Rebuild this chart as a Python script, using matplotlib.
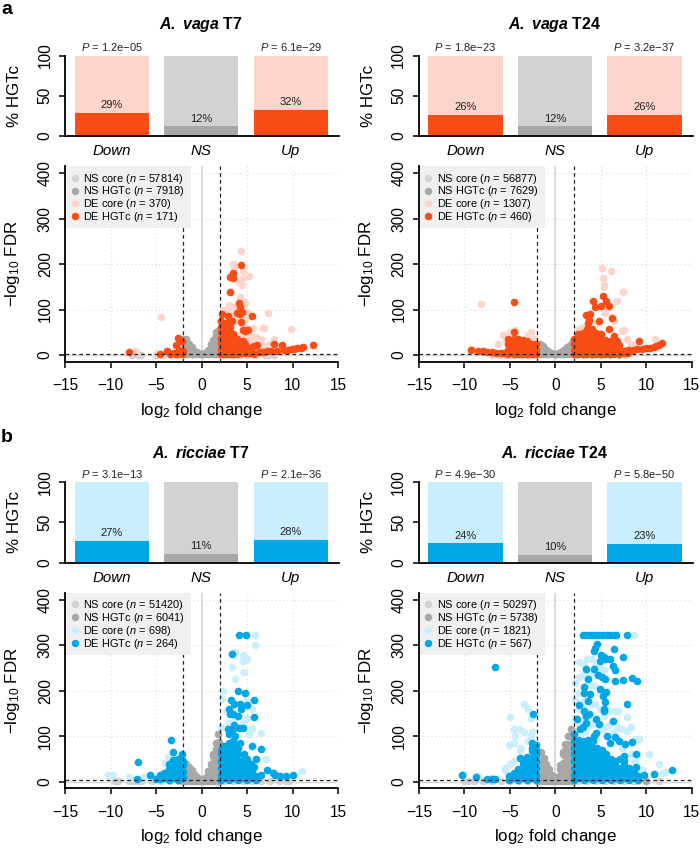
import matplotlib
matplotlib.use("Agg")
import matplotlib.pyplot as plt
from matplotlib.lines import Line2D
from matplotlib.patches import Rectangle

plt.rcParams.update({
    "font.family": ["Liberation Sans", "DejaVu Sans"],
    "mathtext.fontset": "custom",
    "mathtext.rm": "Liberation Sans",
    "mathtext.it": "Liberation Sans:italic",
    "mathtext.bf": "Liberation Sans:bold",
    "mathtext.bfit": "Liberation Sans:italic:bold",
})

W, H = 700, 850
ORANGE, ORANGE_PALE = "#fa4d16", "#fdd5cb"
BLUE, BLUE_PALE = "#00a7e7", "#c9eefd"
GREY, GREY_DARK = "#d2d2d2", "#a8a8a8"

categories = ["Down", "NS", "Up"]

# Bars: percentage of HGTc
pct_a_t7 = [29, 12, 32]
pct_a_t24 = [26, 12, 26]
pct_b_t7 = [27, 11, 28]
pct_b_t24 = [24, 10, 23]
p_a_t7 = ["1.2e−05", "6.1e−29"]
p_a_t24 = ["1.8e−23", "3.2e−37"]
p_b_t7 = ["3.1e−13", "2.1e−36"]
p_b_t24 = ["4.9e−30", "5.8e−50"]

# Legend counts: NS core, NS HGTc, DE core, DE HGTc
n_a_t7 = [57814, 7918, 370, 171]
n_a_t24 = [56877, 7629, 1307, 460]
n_b_t7 = [51420, 6041, 698, 264]
n_b_t24 = [50297, 5738, 1821, 567]

# Volcano points: columns are (x, [y, ...]).
ns_core_a_t7 = [(-7.7, [1]), (-7, [1]), (-6.7, [1]), (-5, [1]), (-4.2, [1]), (-3.4, [1]), (-2.6, [1]),
                (2.6, [1]), (3.4, [1]), (4.2, [1]), (5, [1]), (6, [1]), (7, [1]), (7.3, [0]), (8, [1])]
ns_core_a_t24 = [(-7, [0]), (-6.2, [1]), (-5.4, [1]), (-4.6, [1]), (-3.8, [1]), (-3, [1]), (-2.2, [1]),
                 (2.3, [1]), (3.2, [1]), (4, [1]), (5, [1]), (6, [1]), (7, [1]), (7.7, [0])]
ns_core_b_t7 = [(-9.5, [1]), (-9.2, [1]), (-8, [1]), (-7.5, [1]), (-7, [1]), (-6.7, [1]), (-5.5, [1]), (-4.5, [1]),
                (-3.5, [1]), (-2.5, [1]), (2.5, [1]), (3.5, [1]), (4.5, [1]), (5.5, [1]), (6.5, [1]), (7.5, [1]),
                (8.5, [1]), (9.3, [1]), (9.6, [1])]
ns_core_b_t24 = [(-10, [1]), (-9.6, [1]), (-9, [1]), (-8, [1]), (-7, [1]), (-6, [1]), (-5, [1]), (-4, [1]), (-3, [1]),
                 (2.5, [1]), (3.5, [1]), (4.5, [1]), (5.5, [1]), (6.5, [1]), (7.5, [1]), (8.5, [1]), (9, [1]),
                 (11.4, [1])]

ns_hgtc_a_t7 = [(-2, [2, 14, 26, 36]), (-1.7, [2, 14, 26, 35]), (-1.4, [2, 14, 24]), (-1.1, [2, 12, 18]),
                (-0.8, [2, 10]), (-0.5, [2, 6]), (-0.2, [2, 3]), (0.1, [2, 3]), (0.4, [2, 4]),
                (0.7, [2, 8, 12]), (1, [2, 14, 24]), (1.3, [2, 14, 28, 34]), (1.6, [2, 14, 28, 42, 50]),
                (1.9, [2, 14, 28, 42, 56])]
ns_hgtc_a_t24 = [(-2, [2, 12, 24]), (-1.7, [2, 12, 24]), (-1.4, [2, 12, 19]), (-1.1, [2, 13]), (-0.8, [2, 9]),
                 (-0.5, [2, 5]), (-0.2, [2, 3]), (0.1, [2, 3]), (0.4, [2, 5]), (0.7, [2, 8]), (1, [2, 12]),
                 (1.3, [2, 12, 17]), (1.6, [2, 12, 23]), (1.9, [2, 12, 27, 30])]
ns_hgtc_b_t7 = [(-2, [2, 14, 28, 40]), (-1.7, [2, 14, 28, 38]), (-1.4, [2, 14, 28, 32]), (-1.1, [2, 14, 25]),
                (-0.8, [2, 14, 18]), (-0.5, [2, 10]), (-0.2, [2, 4]), (0.1, [2, 5]), (0.4, [2, 9]),
                (0.7, [2, 14, 24]), (1, [2, 14, 28, 40]), (1.3, [2, 14, 28, 42, 56, 62]),
                (1.6, [2, 14, 28, 42, 56, 72, 86]), (1.75, [105]), (1.9, [2, 14, 28, 42, 56, 72, 88])]
ns_hgtc_b_t24 = [(-2, [2, 14, 28, 42, 56, 66]), (-1.6, [2, 14, 28, 42, 56, 66]), (-1.3, [2, 14, 28, 42, 52]),
                 (-1, [2, 14, 28, 40]), (-0.7, [2, 14, 28]), (-0.4, [2, 14]), (-0.1, [2, 6]), (0.2, [2, 10]),
                 (0.5, [2, 14, 28, 36]), (0.8, [2, 14, 28, 42, 60, 66]), (1.1, [2, 14, 28, 42, 56, 70, 84]),
                 (1.4, [2, 14, 28, 42, 56, 70, 84, 100]), (1.7, [2, 14, 28, 42, 56, 70, 84, 100, 117]),
                 (1.95, [2, 14, 28, 42, 56, 70, 84, 100, 112]), (10, [1])]

de_core_a_t7 = [(-7.2, [8]), (-5, [3]), (-4.9, [3]), (-4.5, [84]), (-3, [5]), (2, [75]), (2.3, [100]), (2.8, [90]),
                (3, [110, 95]), (3.4, [200]), (3.6, [190, 105, 90]), (4, [45, 78]), (4.1, [160, 100]), (4.2, [128]),
                (4.3, [230]), (4.4, [155, 70, 45]), (4.5, [170, 120, 85]), (4.6, [185, 65]), (4.8, [115, 80, 40]),
                (5, [40, 60, 35, 95]), (5.2, [175, 45]), (5.5, [40, 22]), (5.6, [60, 32]), (6, [40, 30]),
                (6.5, [35, 22]), (6.7, [60]), (6.9, [60]), (7, [20]), (7.3, [92]), (7.5, [25]), (8, [36, 18]),
                (8.5, [20]), (9.8, [57])]
de_hgtc_a_t7 = [(-8, [7]), (-4.6, [3]), (-3.8, [8]), (-3.5, [3]), (-3, [5]), (-2.8, [22, 2]), (-2.6, [38]),
                (-2.5, [12]), (-2.2, [32, 3]), (-2.1, [10]),
                (2.1, [3, 14, 26, 38, 50, 62, 75]), (2.2, [90]), (2.4, [3, 12, 24, 36, 48, 60, 70]),
                (2.8, [2, 12, 24, 36, 48, 60, 70]), (2.9, [85]), (3.1, [3, 14, 26, 38, 50, 62, 138, 172]),
                (3.3, [75]), (3.4, [170]), (3.5, [3, 12, 24, 36, 46, 180]), (3.9, [3, 14, 26, 36, 92]),
                (4.1, [115]), (4.2, [90, 105]), (4.3, [4, 16, 28, 72, 199]), (4.4, [95]), (4.5, [55]),
                (4.6, [30]), (4.8, [4, 14, 24, 52]), (5.1, [55]), (5.3, [4, 14]), (5.5, [85, 18]), (5.8, [3, 20]),
                (6.1, [22]), (6.3, [7]), (6.8, [7]), (7.2, [8]), (7.6, [9]), (8, [24]), (8.3, [10]), (8.8, [22]),
                (9.1, [11]), (9.5, [12]), (9.9, [13]), (10.2, [14]), (10.5, [15]), (10.9, [16]), (11.2, [18]),
                (12.2, [22])]

de_core_a_t24 = [(-9.3, [14]), (-8.2, [112]), (-6.3, [25]), (-5.8, [45]), (-5.4, [30]), (-5, [50]), (-4.4, [55]),
                 (-3, [45]), (-2.7, [50]), (-2.4, [35]), (2.4, [55]), (2.8, [60]), (3.2, [62]), (4.6, [70]),
                 (5.1, [192]), (5.2, [170]), (5.3, [155, 150]), (5.5, [92]), (5.6, [105]), (6.1, [184]),
                 (6.5, [75]), (6.8, [119]), (7.3, [52]), (7.4, [138]), (7.5, [55]), (7.9, [35]), (8.3, [25]),
                 (8.8, [20]), (11, [36]), (11.4, [24])]
de_hgtc_a_t24 = [(-9.3, [12]), (-8.5, [9]), (-8, [8]), (-7.5, [7]), (-7, [6]), (-6.5, [5]), (-6, [5]),
                 (-5.6, [4]), (-5.2, [2, 12, 24, 36]), (-4.9, [8, 20, 30]), (-4.6, [2, 12, 24, 36, 50]), (-4.5, [116]),
                 (-4.1, [2, 12, 24, 36]), (-3.6, [2, 12, 24, 34]), (-3.1, [2, 12, 24, 32]),
                 (-2.6, [2, 12, 24]), (-2.1, [2, 12, 24]),
                 (2.1, [2, 12, 24, 36]), (2.5, [2, 12, 24, 36, 46]), (3, [2, 12, 24, 36, 48]),
                 (3.4, [88]), (3.5, [2, 12, 24, 36, 48, 58]), (3.6, [70]), (3.7, [78]), (3.8, [90]),
                 (4, [2, 12, 24, 36, 48, 58]), (4.1, [120]), (4.4, [105]), (4.5, [2, 12, 24, 36, 48]),
                 (4.8, [75]), (5, [2, 12, 24, 36, 46, 107]), (5.2, [130]), (5.5, [2, 12, 24, 34]),
                 (5.6, [118]), (5.9, [108, 57]), (6, [2, 12, 22, 32]), (6.2, [82]), (6.5, [2, 10, 20, 30, 42]),
                 (6.8, [30]), (7, [3, 12, 22]), (7.5, [4, 10]), (8, [5, 11]), (8.5, [12]), (9, [13]),
                 (9.2, [32]), (9.5, [14]), (10, [15]), (10.4, [16]), (10.8, [18]), (11.1, [20]), (11.4, [22]),
                 (11.7, [27])]

de_core_b_t7 = [(-10.3, [15]), (-9.8, [14]), (-8, [10]), (-7.8, [8]), (-6.3, [10]), (-5.5, [15]), (-4, [42]),
                (-3.7, [55]), (2.1, [120]), (2.2, [182]), (2.3, [200]), (2.7, [155]), (3, [130]), (3.3, [252]),
                (3.7, [285, 225, 140]), (4.5, [280, 130]), (4.6, [265]), (4.7, [241]), (5, [270, 180, 140]),
                (5.2, [105]), (5.5, [160, 118]), (5.9, [323, 300]), (6.5, [108]), (7.1, [50]), (8, [22]), (11, [24])]
de_hgtc_b_t7 = [(-7.1, [6]), (-7, [44]), (-5.7, [14]), (-5, [6]), (-4.6, [5, 14]), (-4.1, [8, 20]),
                (-3.6, [3, 15, 28, 40]), (-3.4, [92]), (-3.1, [9, 22, 36, 48, 66]), (-2.6, [3, 15, 30, 42, 50]),
                (-2.2, [60]), (-2.1, [9, 22, 37, 45]),
                (2.1, [3, 15, 30, 45, 60, 70]), (2.5, [9, 22, 37, 52, 67, 78]), (2.9, [115]),
                (3, [3, 15, 30, 45, 60, 75, 85, 105, 160]), (3.1, [150]), (3.2, [180]), (3.3, [281]),
                (3.4, [115]), (3.5, [9, 22, 37, 52, 67, 80, 90, 150]), (3.6, [125, 170]), (3.7, [100]),
                (4, [3, 15, 30, 45, 60, 75, 145, 200]), (4.1, [323, 118]), (4.2, [170, 85]), (4.3, [160]),
                (4.5, [9, 22, 37, 48]), (4.6, [118]), (4.7, [60]), (4.8, [195]), (4.9, [323]),
                (5, [3, 15, 30, 42, 50, 168]), (5.5, [9, 22, 30, 78]), (5.4, [40]), (5.8, [33, 143, 180]),
                (6, [3, 12, 50]), (6.5, [15, 72]), (7.2, [25]), (7.8, [20]), (8.1, [15]), (8.6, [13]), (9.3, [13]),
                (10, [14])]

de_core_b_t24 = [(-10.2, [16]), (-8.5, [12]), (-7, [8]), (-5.5, [30, 25]), (-5.1, [80]), (-5, [142, 38]),
                 (-4.5, [117, 85, 45]), (-4.4, [100]), (-3.9, [115, 70]), (-3.8, [75]), (-3.5, [170]), (-3.4, [110]),
                 (-3, [160, 90]), (-2.7, [140, 100]), (-2.6, [110]),
                 (2.2, [218, 180, 140, 110]), (2.6, [264, 230, 195, 160, 125]), (3, [260, 235, 200, 165, 130]),
                 (3.3, [180, 145, 110]), (3.5, [270, 240, 215, 180, 120]), (3.8, [150, 125]),
                 (4, [270, 240, 210, 170, 130]), (4.4, [255, 210, 170, 130]), (4.9, [250, 195, 160, 115]),
                 (5.4, [245, 145, 115]), (5.9, [155, 125, 100]), (6.5, [155, 110]), (6.9, [155, 120]),
                 (7.3, [115, 75]), (7.9, [142, 112]), (8.3, [120, 60]), (8.8, [95, 45]), (9.2, [95]), (8.6, [323]),
                 (9, [60, 30]), (9.5, [25]), (10.3, [62]), (11.4, [40]), (11.8, [20]), (12.1, [22])]
de_hgtc_b_t24 = [(-10.3, [15]), (-8.7, [10]), (-7.5, [7]), (-7, [6]), (-6.6, [252, 6]), (-5.1, [3, 12]),
                 (-4.6, [8, 20]), (-4.1, [3, 15, 28]), (-3.9, [52]), (-3.6, [9, 22, 37, 45]),
                 (-3.1, [3, 15, 30, 45, 55]), (-2.6, [9, 22, 37, 52, 67, 75, 85]), (-2.5, [150]),
                 (-2.15, [3, 15, 30, 45, 60, 70, 80]),
                 (2.1, [3, 15, 30, 45, 60, 75, 90, 105]), (2.4, [137]), (2.6, [9, 22, 37, 52, 67, 82, 92, 168]),
                 (2.7, [115]), (3, [323, 120]), (3.1, [3, 15, 30, 45, 60, 75, 90, 208]), (3.2, [155, 195]),
                 (3.4, [323, 248, 145, 130]), (3.6, [9, 22, 37, 52, 67, 82, 92, 178, 227]), (3.7, [150]),
                 (3.8, [323, 192]), (4.1, [323, 3, 15, 30, 45, 60, 75, 90]), (4.2, [248, 287, 100]), (4.4, [295]),
                 (4.5, [323, 138, 108]), (4.6, [303, 9, 22, 37, 52, 67, 75]), (4.7, [235]), (4.8, [323, 128]),
                 (4.9, [265, 205]), (5, [280]), (5.1, [230, 3, 15, 30, 45, 60, 70]), (5.2, [323, 188]),
                 (5.3, [275, 160]), (5.4, [155]), (5.5, [270, 225, 175]), (5.6, [198, 9, 22, 37, 52, 60]),
                 (5.7, [323, 100]), (6, [323, 270, 85]), (6.1, [3, 15, 30, 45, 50]), (6.3, [255, 133]),
                 (6.4, [323]), (6.5, [293]), (6.6, [245, 222, 98, 9, 22, 37, 45]), (6.7, [323]), (7, [90]),
                 (7.1, [3, 15, 30, 50]), (7.4, [275, 224]), (7.5, [57]), (7.6, [9, 22, 37, 45]), (7.7, [82]),
                 (7.9, [323, 172]), (8.1, [3, 15, 30]), (8.4, [228, 87]), (8.6, [9, 20]), (8.9, [62, 32]),
                 (9, [221]), (9.1, [3, 12]), (9.7, [15]), (10.9, [18]), (12.8, [25])]


def flatten(columns):
    xs, ys = [], []
    for x, values in columns:
        for y in values:
            xs.append(x)
            ys.append(y)
    return xs, ys


def box(left, top, right, bottom):
    return [left / W, 1 - bottom / H, (right - left) / W, (bottom - top) / H]


def style_axes(ax):
    for s in ("top", "right"):
        ax.spines[s].set_visible(False)
    for s in ("left", "bottom"):
        ax.spines[s].set_linewidth(1.3)
    ax.tick_params(axis="y", length=4.2, width=1.1, pad=4.8, labelsize=11.2, labelrotation=90)
    plt.setp(ax.get_yticklabels(), va="center")


def bar_panel(fig, dx, dy, pct, pvals, dark, pale, title):
    ax = fig.add_axes(box(65 + dx, 55.5 + dy, 339 + dx, 136 + dy))
    positions = [0, 1, 2]
    ax.bar(positions, [100, 100, 100], width=0.83, color=[pale, GREY, pale])
    ax.bar(positions, pct, width=0.83, color=[dark, GREY_DARK, dark])
    ax.set_xlim(-0.523, 2.54)
    ax.set_ylim(0, 100)
    ax.set_yticks([0, 50, 100])
    ax.set_xticks(positions, categories, style="italic", fontsize=10.8)
    ax.tick_params(axis="x", length=0, pad=6)
    style_axes(ax)
    ax.set_ylabel("% HGTc", fontsize=12.2)
    ax.yaxis.set_label_coords(-43 / 274, 0.5)
    for x, v in zip(positions, pct):
        ax.annotate(f"{v}%", (x, v), xytext=(0, 2), textcoords="offset points",
                    ha="center", va="bottom", fontsize=8, color="#222222")
    for x, p in zip([0, 2], pvals):
        ax.text(x, 102.5, f"$\\mathit{{P}}$ = {p}", ha="center", va="bottom", fontsize=8, color="#222222")
    ax.text(0.496, 1.265, title, transform=ax.transAxes, ha="center", va="bottom",
            fontsize=11.4, fontweight="bold")


def volcano(fig, dx, dy, series, n, dark, pale):
    ax = fig.add_axes(box(65.3 + dx, 166 + dy, 338 + dx, 361.5 + dy))
    ax.set_xlim(-15, 15)
    ax.set_ylim(-14.2, 416)
    ax.set_xticks([-15, -10, -5, 0, 5, 10, 15])
    ax.set_yticks([0, 100, 200, 300, 400])
    ax.grid(True, linestyle=(0, (1, 2.5)), color="#dcdcdc", linewidth=0.8, zorder=0)
    ax.set_axisbelow(True)
    ax.axhline(0, color="#d8d8d8", lw=1, zorder=1)
    ax.axvline(0, color="#d4d4d4", lw=1.1, zorder=1)

    colors = [GREY, GREY_DARK, pale, dark]
    labels = ["NS core", "NS HGTc", "DE core", "DE HGTc"]
    for cols, color in zip(series, colors):
        xs, ys = flatten(cols)
        ax.scatter(xs, ys, s=30, color=color, linewidths=0, zorder=2)

    dash = (0, (3, 2.5))
    ax.axvline(-2, color="#222222", lw=0.9, ls=dash, zorder=3)
    ax.axvline(2, color="#222222", lw=0.9, ls=dash, zorder=3)
    ax.axhline(3, color="#222222", lw=0.9, ls=dash, zorder=3)

    ax.add_patch(Rectangle((0.003, 1 - 62 / 195.5), 125 / 272.7, 62 / 195.5, transform=ax.transAxes,
                           facecolor="#f0f0f0", edgecolor="none", zorder=4))
    handles = [Line2D([], [], marker="o", ls="", markersize=5.4, color=c, markeredgewidth=0) for c in colors]
    texts = [f"{lab} ($\\mathit{{n}}$ = {v})" for lab, v in zip(labels, n)]
    leg = ax.legend(handles, texts, loc="upper left", bbox_to_anchor=(3.9 / 272.7, 1 - 5.5 / 195.5), borderaxespad=0,
                    fontsize=7.9, frameon=False, labelspacing=-0.1, handletextpad=0.28, handlelength=1.0,
                    borderpad=0)
    leg.set_zorder(5)

    style_axes(ax)
    ax.tick_params(axis="x", length=4.2, width=1.1, labelsize=11.2, pad=8)
    ax.set_xlabel("log$_{2}$ fold change", fontsize=12.2)
    ax.xaxis.set_label_coords(0.5, -0.2)
    ax.set_ylabel("−log$_{10}$ FDR", fontsize=12.2)
    ax.yaxis.set_label_coords(-43 / 272.7, 0.5)


fig = plt.figure(figsize=(W / 100, H / 100), dpi=100)

DX, DY = 353.7, 426.7
bar_panel(fig, 0, 0, pct_a_t7, p_a_t7, ORANGE, ORANGE_PALE, r"$\mathbfit{A.}$ $\mathbfit{vaga}$ T7")
bar_panel(fig, DX, 0, pct_a_t24, p_a_t24, ORANGE, ORANGE_PALE, r"$\mathbfit{A.}$ $\mathbfit{vaga}$ T24")
bar_panel(fig, 0, DY, pct_b_t7, p_b_t7, BLUE, BLUE_PALE, r"$\mathbfit{A.}$ $\mathbfit{ricciae}$ T7")
bar_panel(fig, DX, DY, pct_b_t24, p_b_t24, BLUE, BLUE_PALE, r"$\mathbfit{A.}$ $\mathbfit{ricciae}$ T24")

volcano(fig, 0, 0, (ns_core_a_t7, ns_hgtc_a_t7, de_core_a_t7, de_hgtc_a_t7), n_a_t7, ORANGE, ORANGE_PALE)
volcano(fig, DX, 0, (ns_core_a_t24, ns_hgtc_a_t24, de_core_a_t24, de_hgtc_a_t24), n_a_t24, ORANGE, ORANGE_PALE)
volcano(fig, 0, DY, (ns_core_b_t7, ns_hgtc_b_t7, de_core_b_t7, de_hgtc_b_t7), n_b_t7, BLUE, BLUE_PALE)
volcano(fig, DX, DY, (ns_core_b_t24, ns_hgtc_b_t24, de_core_b_t24, de_hgtc_b_t24), n_b_t24, BLUE, BLUE_PALE)

fig.text(1 / W, 1 - 10 / H, "a", fontsize=14, fontweight="bold", va="center", ha="left")
fig.text(1 / W, 1 - 437 / H, "b", fontsize=14, fontweight="bold", va="center", ha="left")

fig.savefig("out.png", dpi=100)
